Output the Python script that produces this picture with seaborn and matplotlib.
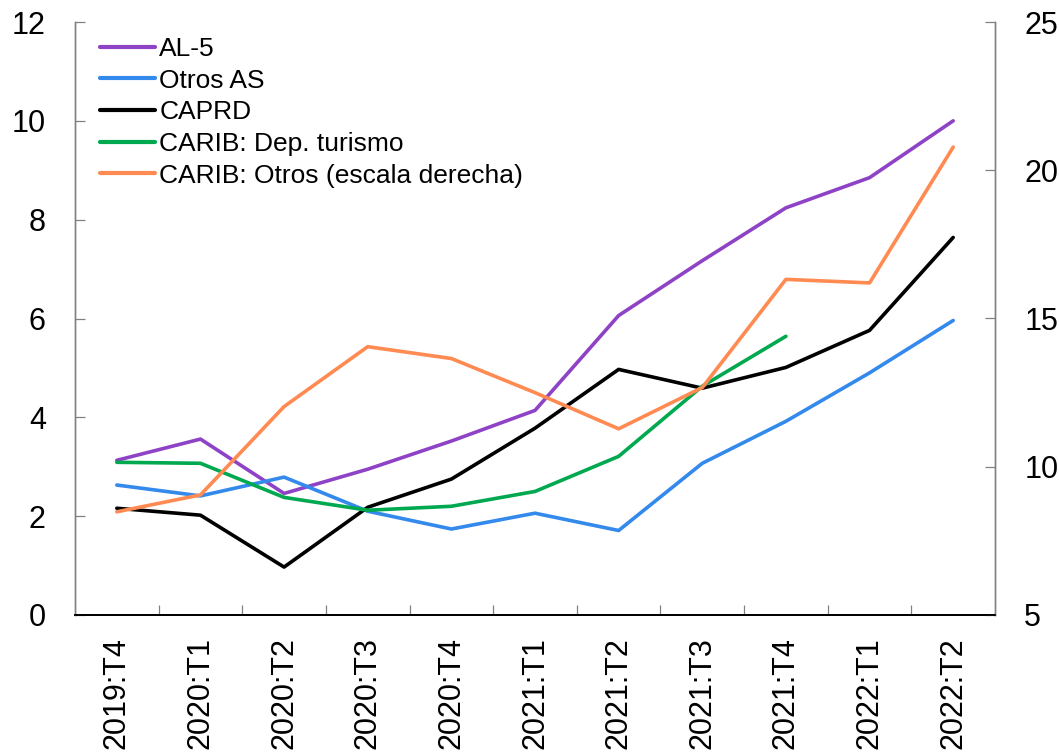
import matplotlib
matplotlib.use("Agg")
import matplotlib.pyplot as plt
import seaborn as sns
import numpy as np
import pandas as pd

sns.set_style("white")
plt.rcParams['font.family'] = ['Liberation Sans', 'DejaVu Sans']
plt.rcParams['text.color'] = 'black'

periods = ["2019:T4", "2020:T1", "2020:T2", "2020:T3", "2020:T4", "2021:T1",
           "2021:T2", "2021:T3", "2021:T4", "2022:T1", "2022:T2"]

al5 = [3.13, 3.56, 2.46, 2.95, 3.52, 4.14, 6.06, 7.17, 8.24, 8.85, 10.0]
otros_as = [2.63, 2.41, 2.79, 2.10, 1.74, 2.06, 1.71, 3.07, 3.92, 4.90, 5.96]
caprd = [2.16, 2.02, 0.97, 2.18, 2.75, 3.78, 4.97, 4.59, 5.01, 5.76, 7.64]
carib_tur = [3.09, 3.07, 2.38, 2.12, 2.20, 2.50, 3.21, 4.63, 5.64, np.nan, np.nan]
carib_otros = [8.48, 9.05, 12.03, 14.05, 13.65, 12.50, 11.28, 12.67, 16.32, 16.20, 20.78]

names_left = ["AL-5", "Otros AS", "CAPRD", "CARIB: Dep. turismo"]
name_right = "CARIB: Otros (escala derecha)"
colors = {"AL-5": "#8E42C6", "Otros AS": "#3389EC", "CAPRD": "#000000",
          "CARIB: Dep. turismo": "#00A84F", name_right: "#FF8A52"}

pos = np.arange(len(periods))
left_df = pd.DataFrame({"pos": np.tile(pos, 4),
                        "valor": al5 + otros_as + caprd + carib_tur,
                        "serie": np.repeat(names_left, len(periods))})
right_df = pd.DataFrame({"pos": pos, "valor": carib_otros,
                         "serie": name_right})

fig = plt.figure(figsize=(10.59, 7.55), dpi=100)
ax = fig.add_axes([75 / 1059, 1 - 615 / 755, 920 / 1059, 593 / 755])
ax2 = ax.twinx()

lw = 2.6
sns.lineplot(data=left_df, x="pos", y="valor", hue="serie", palette=colors,
             hue_order=names_left, linewidth=lw, ax=ax, legend=False)
sns.lineplot(data=right_df, x="pos", y="valor", color=colors[name_right],
             linewidth=lw, ax=ax2, legend=False)

ax.set_xlim(-0.5, len(periods) - 0.5)
ax.set_ylim(0, 12)
ax2.set_ylim(5, 25)
ax.set_yticks(range(0, 13, 2))
ax2.set_yticks(range(5, 26, 5))
ax.set_xlabel("")
ax.set_ylabel("")
ax2.set_ylabel("")

grey = "#808080"
ax.set_xticks(pos)
ax.set_xticklabels(periods, rotation=90)
ax.set_xticks(np.arange(0.5, len(periods) - 1, 1.0), minor=True)
ax.tick_params(axis="x", which="major", length=0, pad=16, labelsize=22,
               labelcolor="black")
ax.tick_params(axis="x", which="minor", direction="in", length=7,
               width=0.9, color=grey, bottom=True)
ax.tick_params(axis="y", direction="in", length=7, width=0.9, color=grey,
               labelsize=22, labelcolor="black", left=True, pad=21)
ax2.tick_params(axis="y", direction="in", length=7, width=0.9, color=grey,
                labelsize=22, labelcolor="black", right=True, pad=21)

for a in (ax, ax2):
    a.spines["top"].set_visible(False)
    a.spines["left"].set_color(grey)
    a.spines["right"].set_color(grey)
    a.spines["left"].set_linewidth(1.0)
    a.spines["right"].set_linewidth(1.0)
    a.spines["bottom"].set_color("black")
    a.spines["bottom"].set_linewidth(1.3)

handles = [plt.Line2D([], [], color=colors[n], linewidth=3.0)
           for n in names_left + [name_right]]
fig.legend(handles, names_left + [name_right], loc="upper left",
           bbox_to_anchor=(100 / 1059, 1 - 37 / 755), frameon=False,
           fontsize=19, handlelength=2.1, handletextpad=0.15,
           labelspacing=0.29, borderpad=0, borderaxespad=0)

fig.savefig("out.png", dpi=100)
